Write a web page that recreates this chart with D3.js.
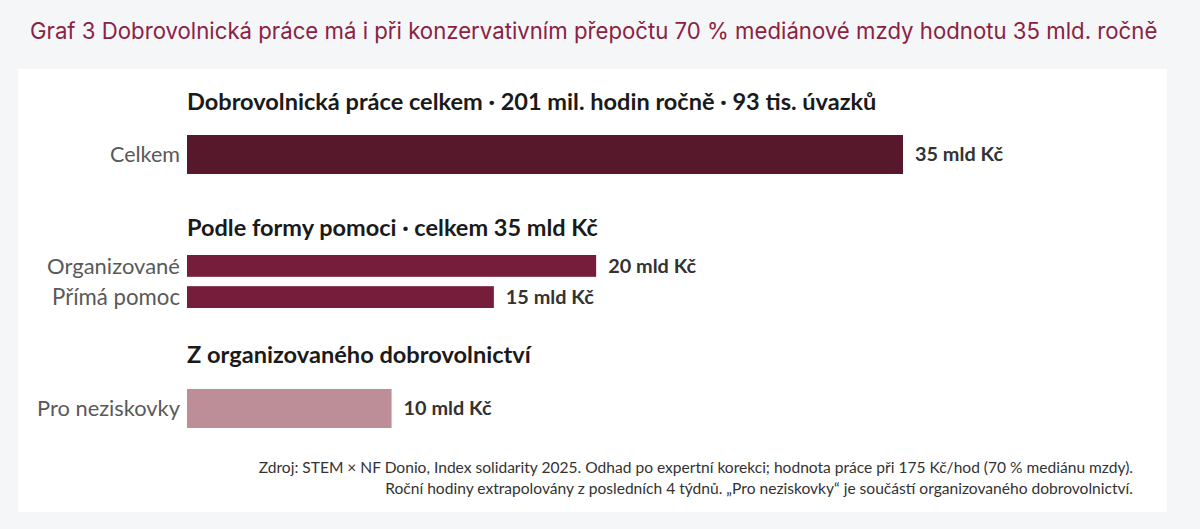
<!DOCTYPE html>
<html>
<head>
<meta charset="utf-8">
<script src="https://cdn.jsdelivr.net/npm/d3@7"></script>
<style>
  body { margin: 0; background: #f5f6f8; }
  svg { display: block; }
</style>
</head>
<body>
<svg id="chart"></svg>
<script>
// Data
const title = "Graf 3 Dobrovolnická práce má i při konzervativním přepočtu 70 % mediánové mzdy hodnotu 35 mld. ročně";
const groupTitles = [
   "Dobrovolnická práce celkem · 201 mil. hodin ročně · 93 tis. úvazků",
   "Podle formy pomoci · celkem 35 mld Kč",
   "Z organizovaného dobrovolnictví"
];
const categories = ["Celkem", "Organizované", "Přímá pomoc", "Pro neziskovky"];
const values = [35, 20, 15, 10];
const groupOf = [0, 1, 1, 2];
const unit = "mld Kč";
const footnotes = [
   "Zdroj: STEM × NF Donio, Index solidarity 2025. Odhad po expertní korekci; hodnota práce při 175 Kč/hod (70 % mediánu mzdy).",
   "Roční hodiny extrapolovány z posledních 4 týdnů. „Pro neziskovky“ je součástí organizovaného dobrovolnictví."
];

// Layout
const width = 1200, height = 529;
const barColors = ["#58182b", "#761d3b", "#761d3b", "#bd8e98"];
const groupRanges = [[135, 174], [255, 308], [389, 428]];
const headingY = [110, 236, 363];

const svg = d3.select("#chart").attr("width", width).attr("height", height);

// fit a text element to a given width by adjusting the font size
const fit = (sel, w) => {
   const node = sel.node();
   const fs = parseFloat(sel.attr("font-size"));
   sel.attr("font-size", fs * w / node.getComputedTextLength());
};

svg.append("rect").attr("width", width).attr("height", height).attr("fill", "#f5f6f8");
svg.append("rect")
   .attr("x", 18).attr("y", 69)
   .attr("width", 1149).attr("height", 443)
   .attr("fill", "#ffffff");

// page title
svg.append("text")
   .attr("x", 30).attr("y", 39)
   .attr("font-family", "Inter, 'Liberation Sans', sans-serif")
   .attr("font-size", 20)
   .attr("fill", "#8a2242")
   .text(title)
   .call(fit, 1128);

const x = d3.scaleLinear().domain([0, 35]).range([187, 903]);

// one band scale per group
const yScales = groupRanges.map((r, g) => {
   const cats = categories.filter((c, i) => groupOf[i] === g);
   return d3.scaleBand().domain(cats).range(r).paddingInner(cats.length > 1 ? 0.3 : 0);
});

const font = "Lato, 'Open Sans', sans-serif";

// group headings
const headWidths = [690, 411, 344];
groupTitles.forEach((t, g) => {
   svg.append("text")
      .attr("x", 187).attr("y", headingY[g])
      .attr("font-family", font)
      .attr("font-weight", 700)
      .attr("font-size", 20)
      .attr("fill", "#1a1a1a")
      .text(t)
      .call(fit, headWidths[g]);
});

const rows = categories.map((c, i) => ({ cat: c, value: values[i], group: groupOf[i], color: barColors[i] }));

const bar = svg.selectAll("g.row")
   .data(rows)
   .enter()
   .append("g")
   .attr("class", "row");

bar.append("rect")
   .attr("x", x(0))
   .attr("y", d => yScales[d.group](d.cat))
   .attr("width", d => x(d.value) - x(0))
   .attr("height", d => yScales[d.group].bandwidth())
   .attr("fill", d => d.color);

const labelWidths = [70, 133, 128, 143];
bar.append("text")
   .attr("x", 180)
   .attr("y", d => yScales[d.group](d.cat) + yScales[d.group].bandwidth() / 2)
   .attr("dy", "0.35em")
   .attr("text-anchor", "end")
   .attr("font-family", font)
   .attr("font-size", 18)
   .attr("fill", "#595959")
   .text(d => d.cat)
   .each(function (d, i) { fit(d3.select(this), labelWidths[i]); });

bar.append("text")
   .attr("x", d => x(d.value) + 12)
   .attr("y", d => yScales[d.group](d.cat) + yScales[d.group].bandwidth() / 2)
   .attr("dy", "0.35em")
   .attr("font-family", font)
   .attr("font-weight", 700)
   .attr("font-size", 17)
   .attr("fill", "#333333")
   .text(d => `${d.value} ${unit}`)
   .each(function () { fit(d3.select(this), 88); });

// footnotes
const footWidths = [875, 748];
footnotes.forEach((t, i) => {
   svg.append("text")
      .attr("x", 1133).attr("y", 473 + i * 21)
      .attr("text-anchor", "end")
      .attr("font-family", font)
      .attr("font-size", 14)
      .attr("fill", "#333333")
      .text(t)
      .call(fit, footWidths[i]);
});
</script>
</body>
</html>
